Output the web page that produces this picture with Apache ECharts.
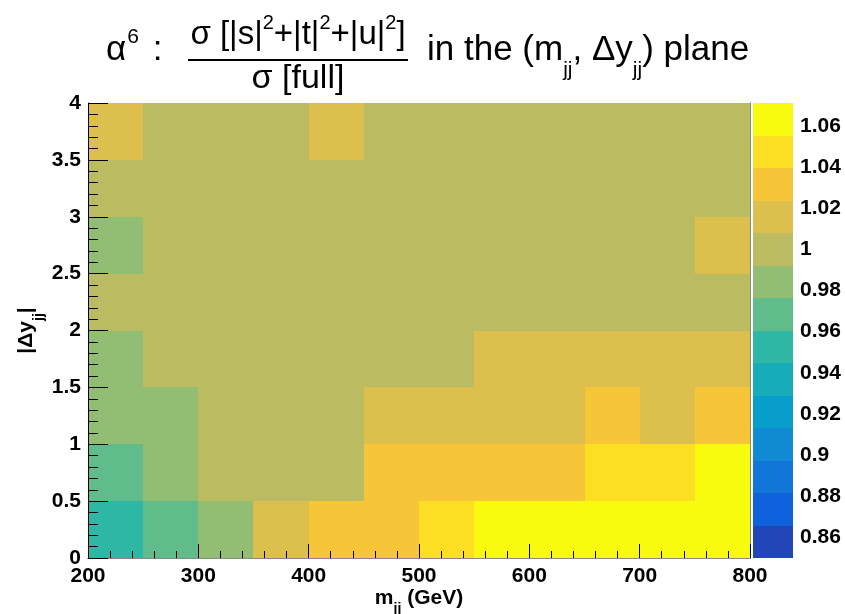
<!DOCTYPE html>
<html><head><meta charset="utf-8">
<script src="https://cdn.jsdelivr.net/npm/echarts@6/dist/echarts.min.js"></script>
<style>html,body{margin:0;padding:0;background:#fff}#c{width:845px;height:614px}</style>
</head><body><div id="c"></div>
<script>
// ---- data ----
const mjjEdges = [200, 250, 300, 350, 400, 450, 500, 550, 600, 650, 700, 750, 800];
const dyEdges = [0, 0.5, 1, 1.5, 2, 2.5, 3, 3.5, 4];
// ratio per (m_jj bin) for each |dy_jj| row, bottom to top
const ratio_dy_00_05 = [0.955, 0.968, 0.985, 1.017, 1.032, 1.030, 1.046, 1.058, 1.062, 1.064, 1.066, 1.070];
const ratio_dy_05_10 = [0.970, 0.982, 1.003, 1.005, 1.006, 1.028, 1.030, 1.033, 1.036, 1.044, 1.049, 1.058];
const ratio_dy_10_15 = [0.979, 0.983, 0.998, 1.001, 1.004, 1.012, 1.015, 1.018, 1.022, 1.027, 1.020, 1.029];
const ratio_dy_15_20 = [0.981, 0.995, 0.997, 1.000, 1.002, 1.004, 1.006, 1.010, 1.013, 1.016, 1.018, 1.021];
const ratio_dy_20_25 = [0.994, 0.996, 0.999, 1.001, 0.998, 1.002, 1.003, 1.000, 1.004, 1.005, 1.003, 1.006];
const ratio_dy_25_30 = [0.987, 0.997, 0.999, 1.002, 1.001, 0.998, 1.003, 1.004, 1.002, 1.005, 1.006, 1.011];
const ratio_dy_30_35 = [0.999, 1.001, 0.998, 1.003, 1.002, 1.000, 1.004, 0.999, 1.003, 1.005, 1.002, 1.006];
const ratio_dy_35_40 = [1.012, 1.004, 1.001, 1.006, 1.010, 1.002, 1.000, 1.003, 1.004, 1.002, 1.005, 1.007];
const xTickStep = 100;
const yTickStep = 0.5;
const paletteTicks = [0.86, 0.88, 0.9, 0.92, 0.94, 0.96, 0.98, 1, 1.02, 1.04, 1.06];
const paletteMin = 0.85;
const paletteMax = 1.0711;
const nBands = 14;

// ---- styles ----
const bandColors = ['#2046b8', '#1061dc', '#1276d8', '#108ad2', '#089ecc', '#17acba', '#2eb7a4',
  '#60bc8a', '#91be73', '#bbbc62', '#ddbf4e', '#f7c638', '#fcde23', '#f9fb0e'];
const FONT = '"Liberation Sans", Arial, Helvetica, sans-serif';

// ---- build ----
const rows = [ratio_dy_00_05, ratio_dy_05_10, ratio_dy_10_15, ratio_dy_15_20,
  ratio_dy_20_25, ratio_dy_25_30, ratio_dy_30_35, ratio_dy_35_40];
const cellData = [];
rows.forEach((row, j) => {
  row.forEach((v, i) => {
    cellData.push([mjjEdges[i], dyEdges[j], v, mjjEdges[i + 1], dyEdges[j + 1]]);
  });
});
const bandStep = (paletteMax - paletteMin) / nBands;
const bandEdges = [];
for (let k = 0; k <= nBands; k++) bandEdges.push(paletteMin + k * bandStep);
const paletteData = [];
const pieces = [];
for (let k = 0; k < nBands; k++) {
  paletteData.push([0, bandEdges[k], (bandEdges[k] + bandEdges[k + 1]) / 2, 1, bandEdges[k + 1]]);
  const p = { gte: bandEdges[k], color: bandColors[k] };
  if (k < nBands - 1) p.lt = bandEdges[k + 1]; else p.lte = bandEdges[k + 1] + 1e-9;
  pieces.push(p);
}

function renderRect(params, api) {
  const p0 = api.coord([api.value(0), api.value(1)]);
  const p1 = api.coord([api.value(3), api.value(4)]);
  const x0 = Math.round(Math.min(p0[0], p1[0])), x1 = Math.round(Math.max(p0[0], p1[0]));
  const y0 = Math.round(Math.min(p0[1], p1[1])), y1 = Math.round(Math.max(p0[1], p1[1]));
  return { type: 'rect', shape: { x: x0, y: y0, width: x1 - x0, height: y1 - y0 },
    style: { fill: api.visual('color') } };
}

const boldLabel = { color: '#000', fontFamily: FONT, fontWeight: 'bold', fontSize: 21 };
const tickLine = { color: '#000', width: 1 };

const chart = echarts.init(document.getElementById('c'), null, { renderer: 'canvas' });
chart.setOption({
  animation: false,
  backgroundColor: '#fff',
  grid: [
    { left: 88, top: 103, width: 662, height: 455, containLabel: false, outerBoundsMode: 'none' },
    { left: 753, top: 103, width: 40, height: 455, containLabel: false, outerBoundsMode: 'none' }
  ],
  xAxis: [
    { gridIndex: 0, type: 'value', min: mjjEdges[0], max: mjjEdges[mjjEdges.length - 1], interval: xTickStep,
      position: 'bottom', z: 10,
      axisLine: { lineStyle: tickLine },
      axisTick: { inside: true, length: 14, lineStyle: tickLine },
      minorTick: { show: true, splitNumber: 5, length: 7, lineStyle: tickLine },
      splitLine: { show: false },
      axisLabel: Object.assign({ margin: 8 }, boldLabel),
      name: '{m|m}{sub|jj}{m| (GeV)}', nameLocation: 'middle', nameGap: 22, nameMoveOverlap: false,
      nameTextStyle: { rich: {
        m: { fontFamily: FONT, fontWeight: 'bold', fontSize: 21, color: '#000', lineHeight: 36, verticalAlign: 'middle' },
        sub: { fontFamily: FONT, fontWeight: 'bold', fontSize: 14, color: '#000', lineHeight: 36, verticalAlign: 'bottom' } } }
    },
    { gridIndex: 0, type: 'value', min: mjjEdges[0], max: mjjEdges[mjjEdges.length - 1], position: 'top', z: 10,
      axisLine: { lineStyle: { color: '#888', width: 1 } }, axisTick: { show: false },
      axisLabel: { show: false }, splitLine: { show: false } },
    { gridIndex: 1, type: 'value', min: 0, max: 1, show: false }
  ],
  yAxis: [
    { gridIndex: 0, type: 'value', min: dyEdges[0], max: dyEdges[dyEdges.length - 1], interval: yTickStep,
      position: 'left', z: 10,
      axisLine: { lineStyle: tickLine },
      axisTick: { inside: true, length: 20, lineStyle: tickLine },
      minorTick: { show: true, splitNumber: 5, length: 10, lineStyle: tickLine },
      splitLine: { show: false },
      axisLabel: Object.assign({ margin: 7 }, boldLabel),
      name: '{m|\u007C\u0394y}{sub|jj}{m|\u007C}', nameLocation: 'middle', nameRotate: 90, nameGap: 42,
      nameMoveOverlap: false,
      nameTextStyle: { rich: {
        m: { fontFamily: FONT, fontWeight: 'bold', fontSize: 21, color: '#000', lineHeight: 38, verticalAlign: 'middle' },
        sub: { fontFamily: FONT, fontWeight: 'bold', fontSize: 14, color: '#000', lineHeight: 40, verticalAlign: 'bottom' } } }
    },
    { gridIndex: 0, type: 'value', min: dyEdges[0], max: dyEdges[dyEdges.length - 1], position: 'right', z: 10,
      axisLine: { lineStyle: { color: '#888', width: 1 } }, axisTick: { show: false },
      axisLabel: { show: false }, splitLine: { show: false } },
    { gridIndex: 1, type: 'value', min: paletteMin, max: paletteMax, position: 'right',
      axisLine: { show: false }, axisTick: { show: false }, splitLine: { show: false },
      axisLabel: Object.assign({ margin: 7, customValues: paletteTicks, showMinLabel: true, showMaxLabel: true }, boldLabel) }
  ],
  visualMap: {
    type: 'piecewise', show: false, dimension: 2, seriesIndex: [0, 1], pieces: pieces
  },
  series: [
    { type: 'custom', xAxisIndex: 0, yAxisIndex: 0, renderItem: renderRect, data: cellData,
      encode: { x: [0, 3], y: [1, 4] }, silent: true },
    { type: 'custom', xAxisIndex: 2, yAxisIndex: 2, renderItem: renderRect, data: paletteData,
      encode: { x: [0, 3], y: [1, 4] }, silent: true }
  ],
  graphic: [
    { type: 'text', x: 106, y: 50, style: { text: '{m|\u03B1}{sup|6}{m| :}', verticalAlign: 'middle', align: 'left',
      rich: {
        m: { fontFamily: FONT, fontSize: 35, fill: '#000', lineHeight: 46, verticalAlign: 'middle' },
        sup: { fontFamily: FONT, fontSize: 21, fill: '#000', lineHeight: 40, verticalAlign: 'top', padding: [0, 4, 0, 1] } } } },
    { type: 'text', x: 298, y: 35, style: { text: '{m|\u03C3 [|s|}{sup|2}{m|+|t|}{sup|2}{m|+|u|}{sup|2}{m|]}',
      verticalAlign: 'middle', align: 'center',
      rich: {
        m: { fontFamily: FONT, fontSize: 33, fill: '#000', lineHeight: 44, verticalAlign: 'middle' },
        sup: { fontFamily: FONT, fontSize: 20, fill: '#000', lineHeight: 38, verticalAlign: 'top' } } } },
    { type: 'line', shape: { x1: 188, y1: 60, x2: 408, y2: 60 }, style: { stroke: '#000', lineWidth: 2 } },
    { type: 'text', x: 298, y: 79, style: { text: '\u03C3 [full]', verticalAlign: 'middle', align: 'center',
      fontFamily: FONT, fontSize: 34, fill: '#000' } },
    { type: 'text', x: 427, y: 50, style: { text: '{m|in the (m}{sub|jj}{m|, \u0394y}{sub|jj}{m|) plane}',
      verticalAlign: 'middle', align: 'left',
      rich: {
        m: { fontFamily: FONT, fontSize: 35, fill: '#000', lineHeight: 62, verticalAlign: 'middle' },
        sub: { fontFamily: FONT, fontSize: 21, fill: '#000', lineHeight: 62, verticalAlign: 'bottom' } } } }
  ]
});
</script>
</body></html>
